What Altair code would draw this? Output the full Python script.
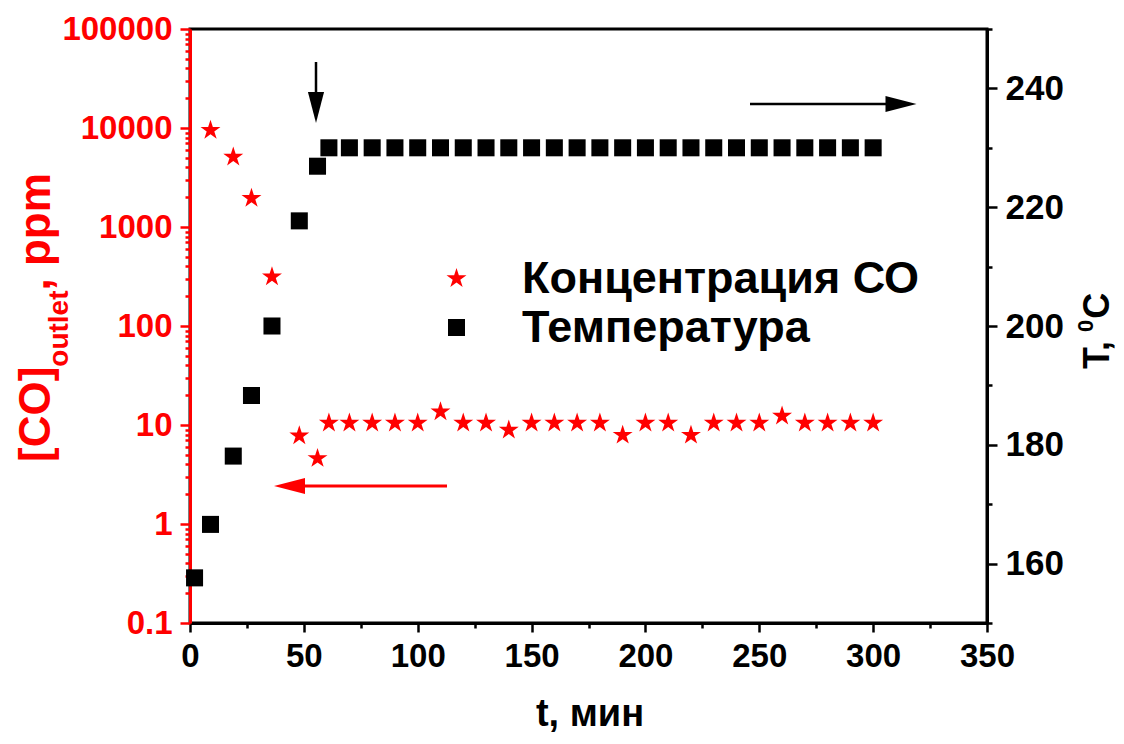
import altair as alt
import pandas as pd

# ---- data ----
series_names = ["Концентрация СО", "Температура"]

t_co = [9, 19, 27, 36, 48, 56, 61, 70, 80, 90, 100, 110, 120, 130, 140, 150,
        160, 170, 180, 190, 200, 210, 220, 230, 240, 250, 260, 270, 280, 290, 300]
co_ppm = [9500, 5100, 1950, 315, 7.8, 4.6, 10.5, 10.5, 10.5, 10.5, 10.5, 13.6,
          10.5, 10.5, 8.9, 10.5, 10.5, 10.5, 10.5, 7.9, 10.5, 10.5, 7.9, 10.5,
          10.5, 10.5, 12.3, 10.5, 10.5, 10.5, 10.5]

t_temp = [2, 9, 19, 27, 36, 48, 56, 61, 70, 80, 90, 100, 110, 120, 130, 140,
          150, 160, 170, 180, 190, 200, 210, 220, 230, 240, 250, 260, 270, 280,
          290, 300]
temp_c = [157.6, 166.6, 178.1, 188.3, 200.0, 217.7, 226.9, 230, 230, 230, 230,
          230, 230, 230, 230, 230, 230, 230, 230, 230, 230, 230, 230, 230, 230,
          230, 230, 230, 230, 230, 230, 230]

x_ticks = [0, 25, 50, 75, 100, 125, 150, 175, 200, 225, 250, 275, 300, 325, 350]
co_ticks = [0.1, 0.2, 0.3, 0.4, 0.5, 0.6, 0.7, 0.8, 0.9,
            1, 2, 3, 4, 5, 6, 7, 8, 9,
            10, 20, 30, 40, 50, 60, 70, 80, 90,
            100, 200, 300, 400, 500, 600, 700, 800, 900,
            1000, 2000, 3000, 4000, 5000, 6000, 7000, 8000, 9000,
            10000, 20000, 30000, 40000, 50000, 60000, 70000, 80000, 90000,
            100000]
t_ticks = [150, 160, 170, 180, 190, 200, 210, 220, 230, 240, 250]

df_co = pd.DataFrame({"t": t_co, "co": co_ppm, "series": series_names[0]})
df_t = pd.DataFrame({"t": t_temp, "temp": temp_c, "series": series_names[1]})

STAR = ("M0,-1L0.2245,-0.309L0.951,-0.309L0.3633,0.118L0.588,0.809L0,0.382"
        "L-0.588,0.809L-0.3633,0.118L-0.951,-0.309L-0.2245,-0.309Z")

FONT = "Liberation Sans"

W, H = 797, 594

legend = alt.Legend(
    title=None, orient="none", legendX=244, legendY=227, padding=0,
    labelFont=FONT, labelFontSize=45, labelFontWeight="bold", labelColor="black",
    labelOffset=43, labelLimit=0, rowPadding=3, symbolStrokeWidth=0, symbolOpacity=1,
)
color = alt.Color("series:N", scale=alt.Scale(domain=series_names, range=["#ff0000", "#000000"]), legend=legend)
shape = alt.Shape("series:N", scale=alt.Scale(domain=series_names, range=[STAR, "square"]), legend=legend)
size = alt.Size("series:N", scale=alt.Scale(domain=series_names, range=[440, 290]), legend=legend)

x_enc = alt.X(
    "t:Q",
    scale=alt.Scale(domain=[0, 350], nice=False, zero=False),
    axis=alt.Axis(
        values=x_ticks, title=None, labelFlush=False, labelOverlap=False,
        labelExpr="datum.value % 50 === 0 ? datum.label : ''",
        tickSize={"condition": {"test": "datum.value % 50 === 0", "value": 9}, "value": 5},
        tickColor="black", tickWidth=2.5, domainColor="black", domainWidth=3,
        labelFont=FONT, labelFontSize=33, labelFontWeight="bold", labelColor="black",
        labelPadding=8,
    ),
)

major_log = "abs(log(datum.value)/LN10 - round(log(datum.value)/LN10)) < 0.000001"

co_layer = alt.Chart(df_co).mark_point(filled=True, opacity=1, strokeWidth=0).encode(
    x=x_enc,
    y=alt.Y(
        "co:Q",
        scale=alt.Scale(type="log", domain=[0.1, 100000], nice=False),
        axis=alt.Axis(
            orient="left", values=co_ticks, title=None, format="~g",
            labelOverlap=False, labelExpr=f"{major_log} ? datum.label : ''",
            tickSize={"condition": {"test": major_log, "value": 10}, "value": 5},
            tickColor="#ff0000", tickWidth=2.5, domainColor="#ff0000", domainWidth=3,
            labelFont=FONT, labelFontSize=33, labelFontWeight="bold", labelColor="#ff0000",
            labelPadding=8,
        ),
    ),
    color=color, shape=shape, size=size,
)

t_layer = alt.Chart(df_t).mark_point(filled=True, opacity=1, strokeWidth=0).encode(
    x=x_enc,
    y=alt.Y(
        "temp:Q",
        scale=alt.Scale(domain=[150, 250], nice=False, zero=False),
        axis=alt.Axis(
            orient="right", values=t_ticks, title=None, labelOverlap=False,
            labelExpr="datum.value % 20 === 0 ? datum.label : ''",
            tickSize={"condition": {"test": "datum.value % 20 === 0", "value": 10}, "value": 5},
            tickColor="black", tickWidth=2.5, domainColor="black", domainWidth=3,
            labelFont=FONT, labelFontSize=35, labelFontWeight="bold", labelColor="black",
            labelPadding=8,
        ),
    ),
    color=color, shape=shape, size=size,
)

one = pd.DataFrame({"k": [0]})


def rule(x1, x2, y1, y2, col, w):
    return alt.Chart(one).mark_rule(color=col, strokeWidth=w).encode(
        x=alt.value(x1), x2=alt.value(x2), y=alt.value(y1), y2=alt.value(y2))


def head(x, y, path, col):
    return alt.Chart(one).mark_point(shape=path, size=961, filled=True, opacity=1,
                                     color=col, strokeWidth=0).encode(
        x=alt.value(x), y=alt.value(y))


def txt(s, x, y, size, col, angle=270, align="left", baseline="alphabetic", font=FONT):
    return alt.Chart(one).mark_text(
        text=s, font=font, fontSize=size, fontWeight="bold", color=col,
        angle=angle, align=align, baseline=baseline,
    ).encode(x=alt.value(x), y=alt.value(y))


arrows = [
    rule(126, 126, 33, 66, "black", 2.5),
    head(126, 78.5, "M-0.52,-1L0.52,-1L0,1Z", "black"),
    rule(560, 700, 75, 75, "black", 2.5),
    head(711, 75, "M-1,-0.52L-1,0.52L1,0Z", "black"),
    rule(110, 257, 457, 457, "#ff0000", 3),
    head(99.5, 457, "M1,-0.52L1,0.52L-1,0Z", "#ff0000"),
]

# left title: [CO]_outlet, ppm  (rotated, reading bottom-to-top)
F1, F2 = 44, 28
w1 = 2.166 * F1
w2 = 2.722 * F2
y0 = 433
titles = [
    txt("[CO]", -140, y0, F1, "#ff0000"),
    txt("outlet", -122, y0 - w1, F2, "#ff0000"),
    txt(", ppm", -140, y0 - w1 - w2, F1, "#ff0000"),
]
# right title: T, ^0C
G1, G2 = 36, 22
v1 = 0.889 * G1 + 5
v2 = 0.556 * G2 + 1
z0 = 340
titles += [
    txt("T,", 919, z0, G1, "black"),
    txt("0", 903, z0 - v1, G2, "black"),
    txt("C", 919, z0 - v1 - v2, G1, "black"),
]
# x title
titles.append(txt("t, мин", 400, 697, 38, "black", angle=0, align="center"))

chart = alt.layer(co_layer, t_layer, *arrows, *titles).resolve_scale(y="independent").properties(
    width=W, height=H,
    autosize=alt.AutoSizeParams(type="none"),
    padding={"left": 182, "top": 21, "right": 129, "bottom": 113},
).configure_view(stroke="black", strokeWidth=3).configure_axis(grid=False)

chart.save("out.html", embed_options={"renderer": "svg", "actions": False})
